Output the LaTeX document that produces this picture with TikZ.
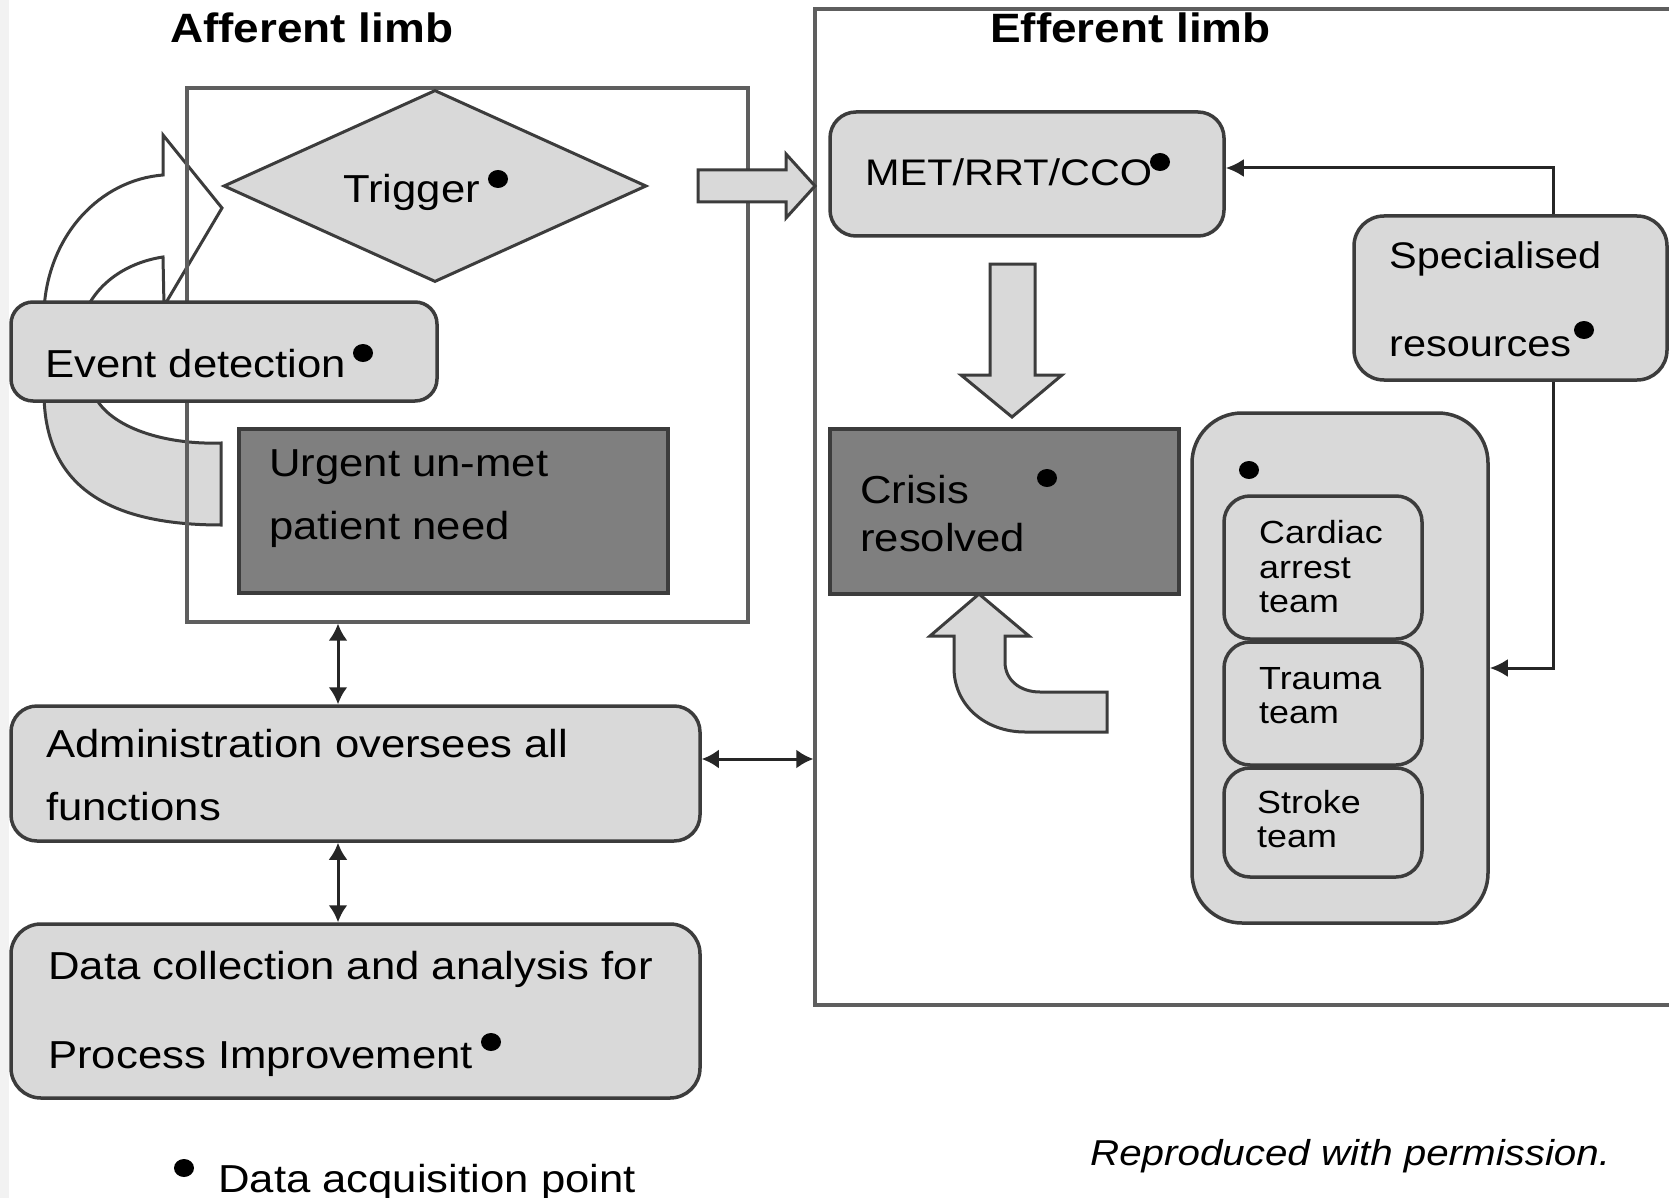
\documentclass[tikz,border=0pt]{standalone}
\usepackage{fontspec}
\setmainfont{Liberation Sans}[FakeStretch=1.12]
\usetikzlibrary{arrows.meta,shapes.geometric}
\definecolor{lightfill}{HTML}{D9D9D9}
\definecolor{darkfill}{HTML}{7F7F7F}
\definecolor{edge}{HTML}{3C3C3C}
\definecolor{frameline}{HTML}{5E5E5E}
\begin{document}
\begin{tikzpicture}[x=1pt,y=-1pt,
  frame/.style={draw=frameline,line width=3.2pt,inner sep=0pt},
  rbox/.style={draw=edge,fill=lightfill,line width=3.5pt,rounded corners=22pt,inner sep=0pt},
  dbox/.style={draw=edge,fill=darkfill,line width=3.5pt,inner sep=0pt},
  blockarrow/.style={draw=edge,fill=lightfill,line width=3pt,line join=miter},
  lbl/.style={anchor=base west,inner sep=0pt,font=\fontsize{39}{47}\selectfont},
  small/.style={anchor=base west,inner sep=0pt,font=\fontsize{32}{38}\selectfont},
  mid/.style={anchor=base west,inner sep=0pt,font=\fontsize{37}{44}\selectfont},
  ttl/.style={anchor=base west,inner sep=0pt,font=\fontsize{41}{49}\selectfont\bfseries},
  dot/.style={ellipse,fill=black,inner sep=0pt,minimum width=20pt,minimum height=18pt},
  conn/.style={draw=black!85,line width=3pt,{Latex[length=17pt,width=19pt]}-{Latex[length=17pt,width=19pt]}},
  arr/.style={draw=black!85,line width=3pt,-{Latex[length=18pt,width=18pt]}},
]
\clip (0,0) rectangle (1669,1198);
\fill[white] (0,0) rectangle (1669,1198);
\fill[gray!10] (0,0) rectangle (9,1198);

% white curved arrow (event detection -> trigger)
\draw[draw=edge,fill=white,line width=3pt,line join=miter]
  (44,310) .. controls (48,235) and (100,180) .. (163,175)
  -- (163,135) -- (222,208) -- (164,306) -- (163,257)
  .. controls (130,262) and (100,280) .. (86,310) -- cycle;

% gray curved arrow (urgent need -> event detection)
\draw[blockarrow]
  (44,392) .. controls (44,480) and (100,525) .. (221,525)
  -- (221,443) .. controls (160,445) and (105,425) .. (93,392) -- cycle;

% frames
\node[frame,minimum width=561pt,minimum height=534pt] (aff) at (467.5,355) {};
\node[frame,minimum width=885pt,minimum height=996pt] (eff) at (1257.5,507) {};

% block arrows
\draw[blockarrow] (698,170) -- (786,170) -- (786,154) -- (815,186) -- (786,218) -- (786,202) -- (698,202) -- cycle;
\draw[blockarrow] (990,264) -- (990,375) -- (961,375) -- (1012,417) -- (1062,375) -- (1035,375) -- (1035,264) -- cycle;
\draw[blockarrow] (954,636) -- (954,668) .. controls (954,705) and (985,732) .. (1025,732)
  -- (1107,732) -- (1107,692) -- (1040,692) .. controls (1020,692) and (1005,680) .. (1005,662)
  -- (1005,636) -- (1029,636) -- (979,594) -- (930,636) -- cycle;

% titles
\node[ttl] (afft) at (170,43) {Afferent limb};
\node[ttl] (efft) at (990,43) {Efferent limb};

% afferent limb
\node[diamond,draw=edge,fill=lightfill,line width=3pt,inner sep=0pt,
  minimum width=423pt,minimum height=192pt] (trig) at (435,186) {};
\node[lbl] (trigt) at (343,203) {Trigger};
\node[rbox,minimum width=426pt,minimum height=99pt] (evt) at (224,351.5) {};
\node[lbl] (evtt) at (45,377) {Event detection};
\node[dbox,minimum width=429pt,minimum height=164pt] (urg) at (453.5,511) {};
\node[lbl] (urg1) at (269,476) {Urgent un-met};
\node[lbl] (urg2) at (269,539) {patient need};

% efferent limb
\node[rbox,rounded corners=26pt,minimum width=394pt,minimum height=124pt] (met) at (1027,174) {};
\node[mid] (mett) at (865,186) {MET/RRT/CCO};
\node[rbox,rounded corners=30pt,minimum width=313pt,minimum height=164pt] (spec) at (1510.5,298) {};
\node[mid] (spec1) at (1389,269) {Specialised};
\node[mid] (spec2) at (1389,356) {resources};
\node[dbox,minimum width=349pt,minimum height=165pt] (crisis) at (1004.5,511.5) {};
\node[lbl] (cr1) at (860,503) {Crisis};
\node[lbl] (cr2) at (860,551) {resolved};
\node[rbox,rounded corners=50pt,minimum width=296pt,minimum height=510pt] (cont) at (1340,668) {};
\node[rbox,rounded corners=26pt,minimum width=198pt,minimum height=143pt] (card) at (1323,567.5) {};
\node[rbox,rounded corners=26pt,minimum width=198pt,minimum height=123pt] (trauma) at (1323,703.5) {};
\node[rbox,rounded corners=26pt,minimum width=198pt,minimum height=109pt] (stroke) at (1323,822.5) {};
\node[small] (card1) at (1259,543) {Cardiac};
\node[small] (card2) at (1259,578) {arrest};
\node[small] (card3) at (1259,612) {team};
\node[small] (tr1) at (1259,689) {Trauma};
\node[small] (tr2) at (1259,723) {team};
\node[small] (st1) at (1257,813) {Stroke};
\node[small] (st2) at (1257,847) {team};

% bottom boxes
\node[rbox,rounded corners=26pt,minimum width=689pt,minimum height=135pt] (admin) at (355.5,773.5) {};
\node[lbl] (adm1) at (46,757) {Administration oversees all};
\node[lbl] (adm2) at (46,820) {functions};
\node[rbox,rounded corners=30pt,minimum width=689pt,minimum height=174pt] (data) at (355.5,1011) {};
\node[lbl] (dat1) at (48,979) {Data collection and analysis for};
\node[lbl] (dat2) at (48,1068) {Process Improvement};

% data acquisition points
\node[dot] (d1) at (498,179) {};
\node[dot] (d2) at (363,353) {};
\node[dot] (d3) at (1160,162) {};
\node[dot] (d4) at (1584,330) {};
\node[dot] (d5) at (1047,478) {};
\node[dot] (d6) at (1249,470) {};
\node[dot] (d7) at (491,1042) {};
\node[dot] (d8) at (184,1168) {};
\node[lbl] (legend) at (218,1192) {Data acquisition point};
\node[anchor=base west,inner sep=0pt,font=\fontsize{36}{43}\selectfont\itshape] (repro) at (1090,1165) {Reproduced with permission.};

% connectors
\coordinate (rx) at (1553,0);
\coordinate (cx) at (338,0);
\coordinate (cy) at (0,759);
\draw[arr] (spec.north -| rx) |- ([yshift=6pt]met.east);
\draw[arr] (spec.south -| rx) |- (cont.east);
\draw[conn] (aff.south -| cx) -- (admin.north -| cx);
\draw[conn] (admin.south -| cx) -- (data.north -| cx);
\draw[conn] (admin.east |- cy) -- (eff.west |- cy);
\end{tikzpicture}
\end{document}
